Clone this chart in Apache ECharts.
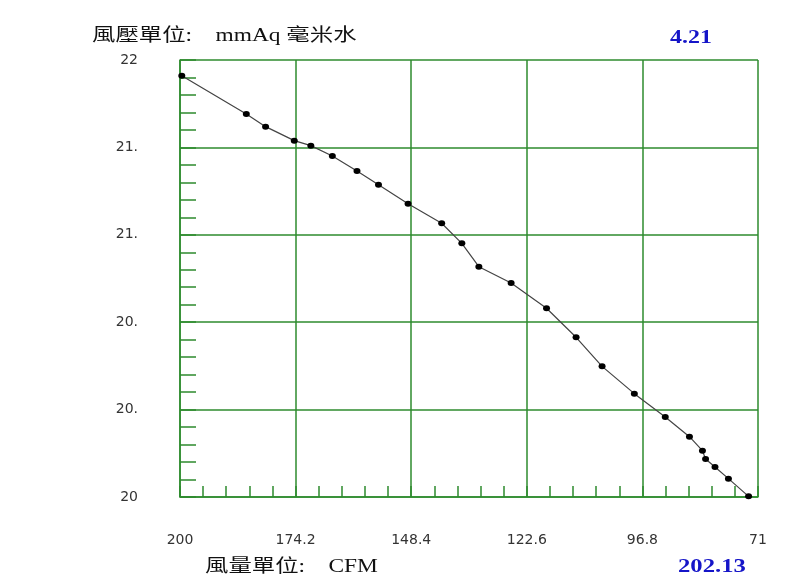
<!DOCTYPE html>
<html>
<head>
<meta charset="utf-8">
<script src="https://cdn.jsdelivr.net/npm/echarts@6/dist/echarts.min.js"></script>
<style>html,body{margin:0;padding:0;background:#fff;}#c{width:795px;height:588px;}</style>
</head>
<body>
<div id="c"></div>
<script>
// Data
const cfm = [199.6, 185.2, 180.9, 174.5, 170.8, 166.0, 160.5, 155.7, 149.1, 141.6, 137.1, 133.3, 126.1, 118.2, 111.6, 105.8, 98.6, 91.7, 86.3, 83.4, 82.7, 80.6, 77.6, 73.1];
const pressure = [21.928, 21.753, 21.695, 21.631, 21.608, 21.561, 21.492, 21.429, 21.342, 21.253, 21.161, 21.054, 20.979, 20.864, 20.731, 20.598, 20.473, 20.366, 20.276, 20.212, 20.174, 20.137, 20.084, 20.003];
const xTickLabels = ['200', '174.2', '148.4', '122.6', '96.8', '71'];
const yTickLabels = ['20', '20.', '20.', '21.', '21.', '22'];
const xStart = 200, xSpan = 129, xStep = 25.8;
const yMin = 20, yMax = 22, yStep = 0.4;

const green = '#2e8b2e';
const chart = echarts.init(document.getElementById('c'));
const seriesData = cfm.map((c, i) => [xStart - c, pressure[i]]);

chart.setOption({
  animation: false,
  backgroundColor: '#fff',
  grid: { left: 180, right: 37, top: 60, bottom: 91, containLabel: false },
  xAxis: {
    type: 'value', min: 0, max: xSpan, interval: xStep,
    axisLine: { show: true, lineStyle: { color: green, width: 1.5 } },
    axisTick: { show: true, inside: true, length: 11, lineStyle: { color: green, width: 1.5 } },
    minorTick: { show: true, splitNumber: 5, length: 11, lineStyle: { color: green, width: 1.5 } },
    splitLine: { show: true, lineStyle: { color: green, width: 1.5 } },
    axisLabel: {
      margin: 36, color: '#333', fontSize: 14, fontFamily: 'DejaVu Sans',
      formatter: v => xTickLabels[Math.round(v / xStep)]
    }
  },
  yAxis: {
    type: 'value', min: yMin, max: yMax, interval: yStep,
    axisLine: { show: true, lineStyle: { color: green, width: 1.5 } },
    axisTick: { show: true, inside: true, length: 16, lineStyle: { color: green, width: 1.5 } },
    minorTick: { show: true, splitNumber: 5, length: 16, lineStyle: { color: green, width: 1.5 } },
    splitLine: { show: true, lineStyle: { color: green, width: 1.5 } },
    axisLabel: {
      margin: 42, color: '#333', fontSize: 14, fontFamily: 'DejaVu Sans',
      formatter: v => yTickLabels[Math.round((v - yMin) / yStep)]
    }
  },
  series: [{
    type: 'line',
    data: seriesData,
    symbol: 'circle', symbolSize: [7, 6],
    itemStyle: { color: '#000' },
    lineStyle: { color: '#444', width: 1.2 },
    z: 5
  }],
  graphic: [
    { type: 'text', x: 92, y: 36, scaleX: 1.3,
      style: { text: '風壓單位:    mmAq 毫米水', font: '18px "Liberation Serif", "Noto Sans CJK TC"', fill: '#111', textAlign: 'left', textVerticalAlign: 'middle' } },
    { type: 'text', x: 670, y: 38, scaleX: 1.33,
      style: { text: '4.21', font: 'bold 18px "Liberation Serif"', fill: '#1515c8', textAlign: 'left', textVerticalAlign: 'middle' } },
    { type: 'text', x: 205, y: 567, scaleX: 1.3,
      style: { text: '風量單位:    CFM', font: '18px "Liberation Serif", "Noto Sans CJK TC"', fill: '#111', textAlign: 'left', textVerticalAlign: 'middle' } },
    { type: 'text', x: 678, y: 567, scaleX: 1.37,
      style: { text: '202.13', font: 'bold 18px "Liberation Serif"', fill: '#1515c8', textAlign: 'left', textVerticalAlign: 'middle' } }
  ]
});
</script>
</body>
</html>
